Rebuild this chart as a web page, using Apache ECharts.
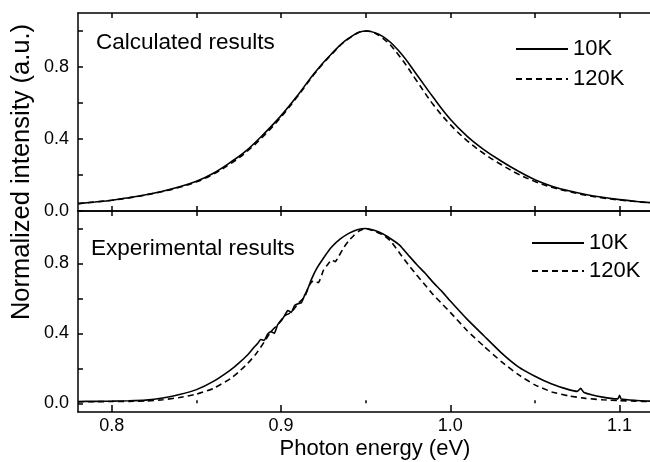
<!DOCTYPE html>
<html>
<head>
<meta charset="utf-8">
<script src="https://cdn.jsdelivr.net/npm/echarts@6/dist/echarts.min.js"></script>
<style>
  html, body { margin: 0; padding: 0; background: #fff; }
  #chart { width: 650px; height: 462px; }
</style>
</head>
<body>
<div id="chart"></div>
<script>
// calculated spectra (top panel)
const calcEnergy = [0.78, 0.79, 0.80, 0.81, 0.82, 0.83, 0.84, 0.85, 0.86, 0.87, 0.88, 0.89, 0.90, 0.91, 0.92, 0.93, 0.94, 0.95,
  0.96, 0.97, 0.98, 0.99, 1.00, 1.01, 1.02, 1.03, 1.04, 1.05, 1.06, 1.07, 1.08, 1.09, 1.10, 1.11, 1.12];
const calc10K = [0.041, 0.05, 0.06, 0.074, 0.09, 0.11, 0.135, 0.165, 0.21, 0.27, 0.34, 0.43, 0.53, 0.645, 0.77, 0.875, 0.96, 1.0,
  0.97, 0.885, 0.76, 0.63, 0.51, 0.415, 0.34, 0.278, 0.222, 0.174, 0.138, 0.112, 0.092, 0.076, 0.063, 0.053, 0.045];
const calc120K = [0.041, 0.05, 0.06, 0.073, 0.089, 0.108, 0.132, 0.162, 0.205, 0.262, 0.332, 0.42, 0.522, 0.64, 0.765, 0.872, 0.958, 1.0,
  0.96, 0.86, 0.725, 0.59, 0.48, 0.39, 0.318, 0.258, 0.206, 0.164, 0.132, 0.108, 0.088, 0.073, 0.061, 0.052, 0.044];

// experimental spectra (bottom panel)
const exp10KEnergy = [0.78, 0.79, 0.80, 0.81, 0.82, 0.83, 0.84, 0.85, 0.86, 0.87, 0.875, 0.88, 0.884,
  0.886, 0.888, 0.890, 0.892, 0.894, 0.896, 0.898, 0.900, 0.902, 0.904, 0.906, 0.908, 0.910, 0.912, 0.914, 0.916, 0.918,
  0.921, 0.925, 0.93, 0.935, 0.94, 0.945, 0.95, 0.955, 0.96, 0.965, 0.97, 0.975, 0.98, 0.985, 0.99, 0.995, 1.00,
  1.01, 1.02, 1.03, 1.04, 1.05, 1.06, 1.07, 1.075, 1.077, 1.079, 1.09, 1.099, 1.100, 1.101, 1.11, 1.118];
const exp10K = [0.01, 0.011, 0.012, 0.014, 0.018, 0.03, 0.05, 0.078, 0.125, 0.19, 0.23, 0.275, 0.32,
  0.34, 0.365, 0.36, 0.395, 0.41, 0.40, 0.45, 0.47, 0.50, 0.53, 0.52, 0.56, 0.57, 0.575, 0.62, 0.66, 0.71,
  0.77, 0.83, 0.895, 0.94, 0.972, 0.993, 1.0, 0.99, 0.97, 0.94, 0.905, 0.85, 0.795, 0.745, 0.69, 0.64, 0.585,
  0.48, 0.385, 0.29, 0.21, 0.155, 0.11, 0.078, 0.068, 0.085, 0.062, 0.035, 0.025, 0.045, 0.024, 0.016, 0.012];

const exp120KEnergy = [0.78, 0.79, 0.80, 0.81, 0.82, 0.83, 0.84, 0.85, 0.86, 0.87, 0.875, 0.88, 0.885, 0.89,
  0.894, 0.898, 0.902, 0.906, 0.910, 0.914, 0.917, 0.919, 0.922, 0.925, 0.928, 0.930, 0.932, 0.934, 0.937, 0.940, 0.943, 0.946,
  0.95, 0.955, 0.96, 0.965, 0.97, 0.975, 0.98, 0.985, 0.99, 0.995, 1.00, 1.01, 1.02, 1.03, 1.04, 1.05, 1.06, 1.07, 1.08, 1.09,
  1.10, 1.11, 1.118];
const exp120K = [0.008, 0.009, 0.01, 0.011, 0.013, 0.02, 0.033, 0.052, 0.085, 0.14, 0.18, 0.225, 0.28, 0.35,
  0.41, 0.45, 0.50, 0.52, 0.57, 0.61, 0.68, 0.70, 0.69, 0.76, 0.80, 0.82, 0.81, 0.84, 0.89, 0.93, 0.96, 0.985,
  1.0, 0.985, 0.965, 0.925, 0.86, 0.795, 0.735, 0.678, 0.62, 0.57, 0.52, 0.415, 0.325, 0.24, 0.165, 0.105, 0.065, 0.042, 0.028, 0.02,
  0.015, 0.012, 0.01];

// ticks
const xLabelTicks = [0.8, 0.9, 1.0, 1.1];
const xMinorTicks = [0.85, 0.95, 1.05];
const xAllTicks = [0.8, 0.85, 0.9, 0.95, 1.0, 1.05, 1.1];
const yLabelTicks = [0, 0.4, 0.8];
const yAllTicks = [0, 0.2, 0.4, 0.6, 0.8, 1.0];

const FONT = 'Liberation Sans, Arial, sans-serif';
const pairs = (xs, ys) => xs.map((x, i) => [x, ys[i]]);

function xAxisFor(gridIndex, position, ticks, tickLen, labels) {
  return {
    type: 'value', gridIndex, position, min: 0.78, max: 1.118,
    axisLine: { show: true, onZero: false, lineStyle: { color: '#000', width: 1.5 } },
    axisTick: { show: true, inside: true, length: tickLen, customValues: ticks, lineStyle: { color: '#000', width: 1.5 } },
    axisLabel: labels
      ? { show: true, customValues: labels, formatter: v => v.toFixed(1), color: '#000', fontSize: 18, fontFamily: FONT, margin: 5 }
      : { show: false },
    splitLine: { show: false }
  };
}

function yAxisFor(gridIndex, min) {
  return {
    type: 'value', gridIndex, min, max: 1.1,
    axisLine: { show: true, onZero: false, lineStyle: { color: '#000', width: 1.5 } },
    axisTick: { show: true, inside: true, length: 5, customValues: yAllTicks, lineStyle: { color: '#000', width: 1.5 } },
    axisLabel: { customValues: yLabelTicks, formatter: v => v.toFixed(1), color: '#000', fontSize: 18, fontFamily: FONT, margin: 9 },
    splitLine: { show: false }
  };
}

const solid = { color: '#000', width: 1.6, type: 'solid' };
const dashed = { color: '#000', width: 1.6, type: [6, 4] };

function line(name, data, xi, yi, style, smooth) {
  return {
    name, type: 'line', data, xAxisIndex: xi, yAxisIndex: yi,
    showSymbol: false, symbol: 'none', legendIcon: 'none', smooth, lineStyle: style, color: '#000', silent: true
  };
}

const legendBase = {
  data: ['10K', '120K'], orient: 'vertical', selectedMode: false,
  itemWidth: 52, itemHeight: 14,
  itemStyle: { opacity: 0 },
  textStyle: { fontSize: 22, fontFamily: FONT, color: '#000', lineHeight: 22 }
};

const chart = echarts.init(document.getElementById('chart'), null, { renderer: 'canvas' });
chart.setOption({
  animation: false,
  backgroundColor: '#fff',
  grid: [
    { left: 78, top: 13, right: 0, height: 198 },
    { left: 78, top: 211, right: 0, height: 201 }
  ],
  xAxis: [
    xAxisFor(0, 'bottom', xAllTicks, 5, null),
    xAxisFor(0, 'top', xAllTicks, 5, null),
    xAxisFor(1, 'top', xAllTicks, 5, null),
    xAxisFor(1, 'bottom', xLabelTicks, 7, xLabelTicks),
    Object.assign(xAxisFor(1, 'bottom', xMinorTicks, 3, null), { axisLine: { show: false } })
  ],
  yAxis: [yAxisFor(0, 0), yAxisFor(1, -0.05)],
  title: [
    { text: 'Calculated results', left: 96, top: 31, padding: 0,
      textStyle: { fontSize: 22.5, fontWeight: 'normal', fontFamily: FONT, color: '#000' } },
    { text: 'Experimental results', left: 91, top: 237, padding: 0,
      textStyle: { fontSize: 22.5, fontWeight: 'normal', fontFamily: FONT, color: '#000' } }
  ],
  legend: [
    Object.assign({}, legendBase, { left: 510, top: 33, itemGap: 8 }),
    Object.assign({}, legendBase, { left: 526, top: 227, itemGap: 6 })
  ],
  graphic: [
    { type: 'text', x: 22, y: 172, rotation: Math.PI / 2,
      style: { text: 'Normalized intensity (a.u.)', fontSize: 25.5, fontFamily: FONT, fill: '#000', align: 'center', verticalAlign: 'middle' } },
    { type: 'text', x: 375, y: 449,
      style: { text: 'Photon energy (eV)', fontSize: 22, fontFamily: FONT, fill: '#000', align: 'center', verticalAlign: 'middle' } }
  ],
  series: [
    line('10K', pairs(calcEnergy, calc10K), 0, 0, solid, 0.4),
    line('120K', pairs(calcEnergy, calc120K), 0, 0, dashed, 0.4),
    line('10K', pairs(exp10KEnergy, exp10K), 3, 1, solid, 0.15),
    line('120K', pairs(exp120KEnergy, exp120K), 3, 1, dashed, 0.15)
  ]
});
</script>
</body>
</html>
